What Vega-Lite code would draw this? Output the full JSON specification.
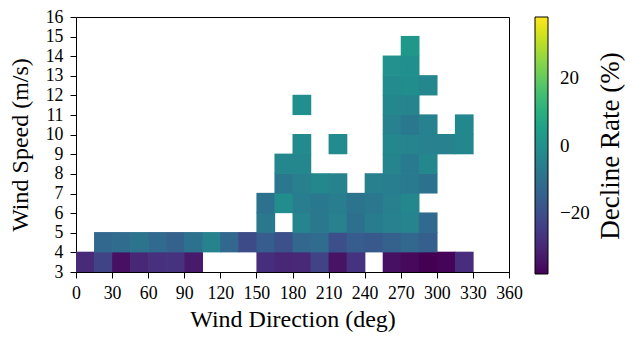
{
  "$schema": "https://vega.github.io/schema/vega-lite/v6.json",
  "width": 433,
  "height": 255,
  "autosize": {"type": "none"},
  "padding": {"left": 76, "top": 17, "right": 135, "bottom": 65},
  "background": "white",
  "data": {"values": [
    {"d":0,"e":15,"s":3,"t":4,"r":-29},{"d":15,"e":30,"s":3,"t":4,"r":-23},{"d":30,"e":45,"s":3,"t":4,"r":-35},{"d":45,"e":60,"s":3,"t":4,"r":-30},{"d":60,"e":75,"s":3,"t":4,"r":-27.5},{"d":75,"e":90,"s":3,"t":4,"r":-27},{"d":90,"e":105,"s":3,"t":4,"r":-33},{"d":150,"e":165,"s":3,"t":4,"r":-28},{"d":165,"e":180,"s":3,"t":4,"r":-30},{"d":180,"e":195,"s":3,"t":4,"r":-29.5},{"d":195,"e":210,"s":3,"t":4,"r":-23},{"d":210,"e":225,"s":3,"t":4,"r":-34.5},{"d":225,"e":240,"s":3,"t":4,"r":-27},{"d":255,"e":270,"s":3,"t":4,"r":-35},{"d":270,"e":285,"s":3,"t":4,"r":-36.5},{"d":285,"e":300,"s":3,"t":4,"r":-38},{"d":300,"e":315,"s":3,"t":4,"r":-37.5},{"d":315,"e":330,"s":3,"t":4,"r":-28.5},
    {"d":15,"e":30,"s":4,"t":5,"r":-13},{"d":30,"e":45,"s":4,"t":5,"r":-11.5},{"d":45,"e":60,"s":4,"t":5,"r":-9},{"d":60,"e":75,"s":4,"t":5,"r":-12},{"d":75,"e":90,"s":4,"t":5,"r":-15},{"d":90,"e":105,"s":4,"t":5,"r":-9.5},{"d":105,"e":120,"s":4,"t":5,"r":-4.5},{"d":120,"e":135,"s":4,"t":5,"r":-13},{"d":135,"e":150,"s":4,"t":5,"r":-21},{"d":150,"e":165,"s":4,"t":5,"r":-16},{"d":165,"e":180,"s":4,"t":5,"r":-19.5},{"d":180,"e":195,"s":4,"t":5,"r":-13},{"d":195,"e":210,"s":4,"t":5,"r":-11.5},{"d":210,"e":225,"s":4,"t":5,"r":-20},{"d":225,"e":240,"s":4,"t":5,"r":-16},{"d":240,"e":255,"s":4,"t":5,"r":-17},{"d":255,"e":270,"s":4,"t":5,"r":-15},{"d":270,"e":285,"s":4,"t":5,"r":-13},{"d":285,"e":300,"s":4,"t":5,"r":-15.5},
    {"d":150,"e":165,"s":5,"t":6,"r":-7.5},{"d":180,"e":195,"s":5,"t":6,"r":-4},{"d":195,"e":210,"s":5,"t":6,"r":-7.5},{"d":210,"e":225,"s":5,"t":6,"r":-5},{"d":225,"e":240,"s":5,"t":6,"r":-10},{"d":240,"e":255,"s":5,"t":6,"r":-6.5},{"d":255,"e":270,"s":5,"t":6,"r":-5},{"d":270,"e":285,"s":5,"t":6,"r":-4},{"d":285,"e":300,"s":5,"t":6,"r":-12},
    {"d":150,"e":165,"s":6,"t":7,"r":-9.5},{"d":165,"e":180,"s":6,"t":7,"r":-1},{"d":180,"e":195,"s":6,"t":7,"r":-6},{"d":195,"e":210,"s":6,"t":7,"r":-7.5},{"d":210,"e":225,"s":6,"t":7,"r":-6},{"d":225,"e":240,"s":6,"t":7,"r":-9},{"d":240,"e":255,"s":6,"t":7,"r":-8},{"d":255,"e":270,"s":6,"t":7,"r":-5.5},{"d":270,"e":285,"s":6,"t":7,"r":-3},
    {"d":165,"e":180,"s":7,"t":8,"r":-8},{"d":180,"e":195,"s":7,"t":8,"r":-5.5},{"d":195,"e":210,"s":7,"t":8,"r":-3},{"d":210,"e":225,"s":7,"t":8,"r":-4.5},{"d":240,"e":255,"s":7,"t":8,"r":-5.5},{"d":255,"e":270,"s":7,"t":8,"r":-6},{"d":270,"e":285,"s":7,"t":8,"r":-7},{"d":285,"e":300,"s":7,"t":8,"r":-9.5},
    {"d":165,"e":180,"s":8,"t":9,"r":-3},{"d":180,"e":195,"s":8,"t":9,"r":-3},{"d":255,"e":270,"s":8,"t":9,"r":-4},{"d":270,"e":285,"s":8,"t":9,"r":-7},{"d":285,"e":300,"s":8,"t":9,"r":-3},
    {"d":180,"e":195,"s":9,"t":10,"r":-2},{"d":210,"e":225,"s":9,"t":10,"r":-2},{"d":255,"e":270,"s":9,"t":10,"r":-3},{"d":270,"e":285,"s":9,"t":10,"r":-4},{"d":285,"e":300,"s":9,"t":10,"r":-5},{"d":300,"e":315,"s":9,"t":10,"r":-5},{"d":315,"e":330,"s":9,"t":10,"r":-2.5},
    {"d":255,"e":270,"s":10,"t":11,"r":-5},{"d":270,"e":285,"s":10,"t":11,"r":-7.5},{"d":285,"e":300,"s":10,"t":11,"r":-5},{"d":315,"e":330,"s":10,"t":11,"r":-2.5},
    {"d":180,"e":195,"s":11,"t":12,"r":-0.5},{"d":255,"e":270,"s":11,"t":12,"r":-3},{"d":270,"e":285,"s":11,"t":12,"r":-4},
    {"d":255,"e":270,"s":12,"t":13,"r":-2},{"d":270,"e":285,"s":12,"t":13,"r":-1},{"d":285,"e":300,"s":12,"t":13,"r":-3},
    {"d":255,"e":270,"s":13,"t":14,"r":0.5},{"d":270,"e":285,"s":13,"t":14,"r":-0.5},
    {"d":270,"e":285,"s":14,"t":15,"r":2}
  ]},
  "mark": {"type": "rect", "strokeWidth": 0, "x2Offset": 0.7, "y2Offset": -0.7},
  "encoding": {
    "x": {"field": "d", "type": "quantitative", "title": "Wind Direction (deg)",
      "scale": {"domain": [0, 360], "nice": false, "zero": false},
      "axis": {"values": [0,30,60,90,120,150,180,210,240,270,300,330,360], "grid": false,
        "labelFont": "Liberation Serif", "titleFont": "Liberation Serif"}},
    "x2": {"field": "e"},
    "y": {"field": "s", "type": "quantitative", "title": "Wind Speed (m/s)",
      "scale": {"domain": [3, 16], "nice": false, "zero": false},
      "axis": {"values": [3,4,5,6,7,8,9,10,11,12,13,14,15,16], "grid": false,
        "labelFont": "Liberation Serif", "titleFont": "Liberation Serif"}},
    "y2": {"field": "t"},
    "color": {"field": "r", "type": "quantitative", "title": "Decline Rate (%)",
      "scale": {"scheme": "viridis", "domain": [-38, 38]},
      "legend": {"values": [-20, 0, 20], "gradientLength": 257, "gradientThickness": 13, "offset": 26,
        "titleOrient": "right", "titleAnchor": "middle", "titleBaseline": "top", "titleLimit": 400,
        "titleFontSize": 27, "titleFont": "Liberation Serif", "titleFontWeight": "normal", "titleColor": "black", "titlePadding": 8,
        "labelFontSize": 19, "labelFont": "Liberation Serif", "labelColor": "black", "labelOffset": 12,
        "gradientStrokeColor": "black", "gradientStrokeWidth": 1,
        "encoding": {"title": {"angle": {"value": 270}}}}}
  },
  "config": {
    "font": "Liberation Serif",
    "view": {"stroke": "black", "strokeWidth": 1},
    "axis": {"domainColor": "black", "tickColor": "black", "tickSize": 6, "tickWidth": 1,
      "labelFont": "Liberation Serif", "labelFontSize": 17.8, "labelColor": "black",
      "titleFont": "Liberation Serif", "titleFontSize": 24, "titleFontWeight": "normal", "titleColor": "black"},
    "axisX": {"titlePadding": 6, "labelPadding": 6, "labelFlush": false},
    "axisY": {"titlePadding": 13, "labelPadding": 7, "labelFlush": false}
  }
}
